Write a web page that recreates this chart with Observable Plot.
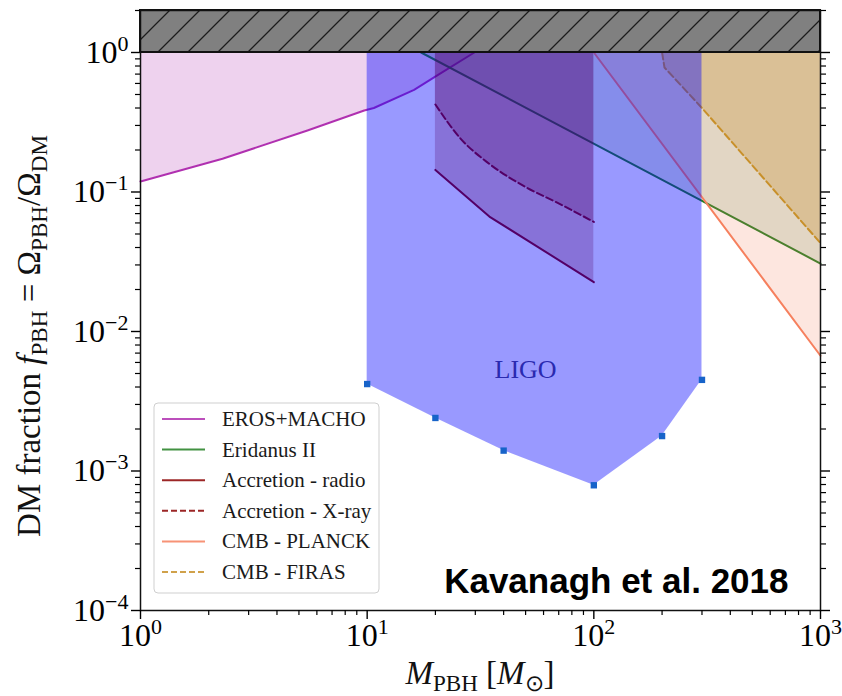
<!DOCTYPE html>
<html><head><meta charset="utf-8">
<script src="https://cdn.jsdelivr.net/npm/d3@7"></script>
<script src="https://cdn.jsdelivr.net/npm/@observablehq/plot@0.6"></script>
<style>
html,body{margin:0;padding:0;background:#fff;}
#chart{width:842px;height:696px;}
</style></head><body><div id="chart"></div>
<script>
// ---- data ----
const erosM = [1, 2.3, 5.45, 9.7, 10.7, 16.1, 19.8, 29.7];
const erosF = [0.119, 0.173, 0.276, 0.384, 0.40, 0.54, 0.665, 1.0];
const eridM = [17.3, 1000];
const eridF = [1.0, 0.0307];
const radioM = [20, 34.6, 100];
const radioF = [0.144, 0.0667, 0.0226];
const xrayM = [20, 25.5, 34.6, 50.3, 70.6, 100];
const xrayF = [0.424, 0.247, 0.159, 0.108, 0.0822, 0.061];
const planckM = [100, 1000];
const planckF = [1.0, 0.0067];
const firasM = [200, 205, 300, 1000];
const firasF = [1.0, 0.78, 0.40, 0.043];
const ligoM = [10, 20, 40, 100, 200, 300];
const ligoF = [0.0042, 0.0024, 0.0014, 0.00079, 0.00178, 0.0045];
const excludedM = [1, 1000];
const excludedF = [1, 2];
const ligoLabel = [{M: 50, f: 0.0053, t: "LIGO"}];
const credit = ["Kavanagh et al. 2018"];

const xTicks = [1, 10, 100, 1000];
const xTickExp = ["0", "1", "2", "3"];
const yTicks = [1, 0.1, 0.01, 0.001, 0.0001];
const yTickExp = ["0", "\u22121", "\u22122", "\u22123", "\u22124"];

const legendLabels = ["EROS+MACHO", "Eridanus II", "Accretion - radio", "Accretion - X-ray", "CMB - PLANCK", "CMB - FIRAS"];
const legendColors = ["#b030b0", "#217f21", "#8b0000", "#8b0000", "#f6805e", "#c8902a"];
const legendDashed = [false, false, false, true, false, true];

// ---- helpers ----
const zip = (M, F) => M.map((m, i) => ({M: m, f: F[i]}));
const eros = zip(erosM, erosF), erid = zip(eridM, eridF), radio = zip(radioM, radioF),
      xray = zip(xrayM, xrayF), planck = zip(planckM, planckF), firas = zip(firasM, firasF),
      ligo = zip(ligoM, ligoF);
const band = [{x1: excludedM[0], x2: excludedM[1], y1: excludedF[0], y2: excludedF[1]}];
const minorOf = (lo, hi) => { const out = []; for (let k = lo; k < hi; k++) for (let m = 2; m <= 9; m++) out.push(m * 10 ** k); return out; };
const xMinor = minorOf(0, 3);
const yMinor = minorOf(-4, 0).concat([2]);

const C = {eros: legendColors[0], erid: legendColors[1], acc: legendColors[2], planck: legendColors[4], firas: legendColors[5]};
const dash = "7,3.5";

const defsMark = () => {
  const defs = d3.create("svg:defs");
  const p = defs.append("pattern").attr("id", "hatch").attr("patternUnits", "userSpaceOnUse")
    .attr("width", 30).attr("height", 30);
  p.append("rect").attr("width", 30).attr("height", 30).attr("fill", "#808080");
  p.append("path").attr("d", "M-7.5,7.5L7.5,-7.5M0,30L30,0M22.5,37.5L37.5,22.5")
    .attr("stroke", "#1c1c1c").attr("stroke-width", 1.3);
  return defs.node();
};

const fillArea = (data, color, op, curve) => Plot.areaY(data, {x: "M", y1: "f", y2: 1, fill: color, fillOpacity: op, curve: curve || "linear"});
const lineOf = (data, color, dashed, curve) => Plot.line(data, {x: "M", y: "f", stroke: color, strokeWidth: 2, strokeDasharray: dashed ? dash : null, curve: curve || "linear"});

const chart = Plot.plot({
  width: 842, height: 696,
  marginLeft: 140, marginRight: 22, marginTop: 10, marginBottom: 86,
  x: {type: "log", domain: [1, 1000]},
  y: {type: "log", domain: [1e-4, 2]},
  style: {fontFamily: "Liberation Serif", background: "white", color: "black"},
  marks: [
    defsMark,
    fillArea(eros, C.eros, 0.22), lineOf(eros, C.eros, false),
    fillArea(erid, C.erid, 0.15), lineOf(erid, C.erid, false),
    fillArea(radio, C.acc, 0.25), lineOf(radio, C.acc, false),
    fillArea(xray, C.acc, 0.25, "monotone-x"), lineOf(xray, C.acc, true, "monotone-x"),
    fillArea(planck, C.planck, 0.2), lineOf(planck, C.planck, false),
    fillArea(firas, C.firas, 0.3), lineOf(firas, C.firas, true),
    fillArea(ligo, "blue", 0.4),
    Plot.dot(ligo, {x: "M", y: "f", symbol: "square", r: 3.6, fill: "#1763c9"}),
    Plot.text(ligoLabel, {x: "M", y: "f", text: "t", fill: "#2a2ab0", fontSize: 26, fontFamily: "Liberation Serif"}),
    Plot.rect(band, {x1: "x1", x2: "x2", y1: "y1", y2: "y2", fill: "url(#hatch)", stroke: "#111", strokeWidth: 2}),
    Plot.frame({stroke: "#111", strokeWidth: 1.5}),
    Plot.axisX({ticks: xMinor, tickSize: 5, tickFormat: () => "", label: null, strokeWidth: 1.2}),
    Plot.axisX({ticks: xTicks, tickSize: 9, tickPadding: 4, tickFormat: d => "10^" + xTickExp[xTicks.indexOf(d)], label: null, fontSize: 32, strokeWidth: 1.4}),
    Plot.axisY({ticks: yMinor, tickSize: 5, tickFormat: () => "", label: null, strokeWidth: 1.2}),
    Plot.axisY({ticks: yTicks, tickSize: 9, tickPadding: 3, tickFormat: d => "10^" + yTickExp[yTicks.indexOf(d)], label: null, fontSize: 32, strokeWidth: 1.4}),
    Plot.axisY({anchor: "right", ticks: yMinor, tickSize: 5, tickFormat: () => "", label: null, strokeWidth: 1.2}),
    Plot.axisY({anchor: "right", ticks: yTicks, tickSize: 9, tickFormat: () => "", label: null, strokeWidth: 1.4}),
    Plot.text(credit, {text: d => d, frameAnchor: "bottom-right", dx: -32, dy: -29, textAnchor: "end", lineAnchor: "middle",
      fontFamily: "Liberation Sans", fontWeight: "bold", fontSize: 35, fill: "black"})
  ]
});
document.getElementById("chart").appendChild(chart);

const svg = d3.select(chart);
// superscripts on tick labels
svg.selectAll("text").each(function () {
  const t = this.textContent;
  if (this.childElementCount === 0 && /^10\^/.test(t)) {
    const [base, ex] = t.split("^");
    const s = d3.select(this);
    s.text(base);
    s.append("tspan").attr("font-size", 22).attr("dy", -12).text(ex);
  }
});

// rich text helper
function rich(g, parts, size) {
  let cur = 0;
  parts.forEach(p => {
    const shift = p.sub ? size * 0.2 : 0;
    const ts = g.append("tspan").text(p.t).attr("dy", shift - cur);
    if (p.sub) ts.attr("font-size", size * 0.7);
    if (p.it) ts.attr("font-style", "italic");
    cur = shift;
  });
}
const ylab = svg.append("text").attr("transform", "translate(40,336) rotate(-90)")
  .attr("text-anchor", "middle").attr("font-size", 33).attr("fill", "#111").attr("font-family", "Liberation Serif");
rich(ylab, [{t: "DM fraction "}, {t: "f", it: true}, {t: "PBH", sub: true}, {t: " = \u03A9"}, {t: "PBH", sub: true},
  {t: "/\u03A9"}, {t: "DM", sub: true}], 33);
const xlab = svg.append("text").attr("x", 480).attr("y", 684)
  .attr("text-anchor", "middle").attr("font-size", 33).attr("fill", "#111").attr("font-family", "Liberation Serif");
rich(xlab, [{t: "M", it: true}, {t: "PBH", sub: true}, {t: " ["}, {t: "M", it: true}, {t: "\u2299", sub: true}, {t: "]"}], 33);

// legend
const lg = svg.append("g").attr("font-family", "Liberation Serif").attr("font-size", 21).attr("text-anchor", "start");
lg.append("rect").attr("x", 154).attr("y", 403).attr("width", 225).attr("height", 190).attr("rx", 4)
  .attr("fill", "white").attr("fill-opacity", 0.8).attr("stroke", "#cfcfcf");
legendLabels.forEach((lab, i) => {
  const y = 419 + i * 30.6;
  lg.append("line").attr("x1", 162).attr("x2", 205).attr("y1", y).attr("y2", y)
    .attr("stroke", legendColors[i]).attr("stroke-width", 2).attr("stroke-opacity", 0.85)
    .attr("stroke-dasharray", legendDashed[i] ? "6,3" : null);
  lg.append("text").attr("x", 222).attr("y", y).attr("dy", "0.33em").attr("text-anchor", "start")
    .attr("fill", "#1a1a1a").text(lab);
});
</script></body></html>
